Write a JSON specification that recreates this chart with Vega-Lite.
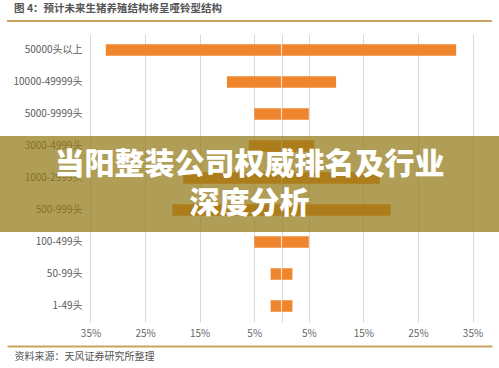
{
  "$schema": "https://vega.github.io/schema/vega-lite/v6.json",
  "width": 485,
  "height": 288,
  "autosize": {"type": "none"},
  "padding": {"left": 7, "top": 34, "right": 7, "bottom": 46},
  "background": "white",
  "config": {"view": {"stroke": null}, "font": "Noto Sans CJK SC"},
  "title": {
    "text": "图 4：预计未来生猪养殖结构将呈哑铃型结构",
    "anchor": "start",
    "frame": "group",
    "dx": 7,
    "offset": 6,
    "fontSize": 10.5,
    "fontWeight": "bold",
    "color": "#555555",
    "font": "Noto Sans CJK SC"
  },
  "datasets": {
    "main": [
      {"size": "50000头以上", "left": -32.2, "right": 32},
      {"size": "10000-49999头", "left": -10, "right": 10},
      {"size": "5000-9999头", "left": -5, "right": 5},
      {"size": "3000-4999头", "left": -6, "right": 6},
      {"size": "1000-2999头", "left": -18, "right": 18},
      {"size": "500-999头", "left": -20, "right": 20},
      {"size": "100-499头", "left": -5, "right": 5},
      {"size": "50-99头", "left": -2, "right": 2},
      {"size": "1-49头", "left": -2, "right": 2}
    ]
  },
  "layer": [
    {
      "data": {"name": "main"},
      "mark": {"type": "bar", "color": "#ef862e", "height": {"band": 0.36}},
      "encoding": {
        "y": {
          "field": "size",
          "type": "nominal",
          "scale": {
            "domain": ["50000头以上", "10000-49999头", "5000-9999头", "3000-4999头", "1000-2999头", "500-999头", "100-499头", "50-99头", "1-49头"],
            "paddingInner": 0,
            "paddingOuter": 0
          },
          "axis": {
            "orient": "left",
            "offset": -84,
            "domain": false,
            "ticks": false,
            "grid": false,
            "labelPadding": 9,
            "labelFontSize": 10,
            "labelColor": "#5a5a5a",
            "title": null
          }
        },
        "x": {
          "field": "left",
          "type": "quantitative",
          "scale": {"domain": [-50.3, 38.57], "nice": false, "zero": false},
          "axis": {
            "orient": "bottom",
            "offset": 24,
            "values": [-35, -25, -15, -5, 0, 5, 15, 25, 35],
            "labelExpr": "datum.value == 0 ? '' : abs(datum.value) + '%'",
            "grid": true,
            "gridColor": "#dadada",
            "domain": true,
            "domainColor": "#c9a35f",
            "domainWidth": 1.8,
            "ticks": false,
            "labelPadding": -18,
            "labelFontSize": 10,
            "labelColor": "#666666",
            "title": "资料来源：天风证券研究所整理",
            "titleAnchor": "start",
            "titleAlign": "left",
            "titleX": 7,
            "titlePadding": 5,
            "titleFontSize": 10,
            "titleFontWeight": "normal",
            "titleColor": "#555555"
          }
        },
        "x2": {"field": "right"}
      }
    },
    {
      "data": {"name": "main"},
      "mark": {"type": "tick", "color": "white", "thickness": 1.2, "size": 11.5, "orient": "vertical"},
      "encoding": {
        "y": {"field": "size", "type": "nominal"},
        "x": {"datum": 0, "type": "quantitative"}
      }
    },
    {
      "data": {"values": [{"size": "50000头以上"}]},
      "mark": {"type": "rule", "color": "#c9a35f", "strokeWidth": 1.8, "yOffset": -29, "clip": false},
      "encoding": {
        "y": {"field": "size", "type": "nominal", "bandPosition": 0.5},
        "x": {"datum": -50.3, "type": "quantitative"},
        "x2": {"datum": 38.57}
      }
    },
    {
      "data": {"values": [{"size": "3000-4999头"}, {"size": "1000-2999头"}, {"size": "500-999头"}]},
      "mark": {"type": "bar", "color": "#937815", "opacity": 0.72, "height": {"band": 1}, "yOffset": 6},
      "encoding": {
        "y": {"field": "size", "type": "nominal"},
        "x": {"datum": -51.6, "type": "quantitative"},
        "x2": {"datum": 39.9}
      }
    },
    {
      "data": {"values": [{"size": "1000-2999头"}]},
      "mark": {
        "type": "text",
        "text": ["当阳整装公司权威排名及行业", "深度分析"],
        "fontSize": 30,
        "fontWeight": 900,
        "color": "white",
        "align": "center",
        "baseline": "middle",
        "lineHeight": 39,
        "yOffset": -13
      },
      "encoding": {
        "y": {"field": "size", "type": "nominal"},
        "x": {"datum": -5.85, "type": "quantitative"}
      }
    }
  ]
}
